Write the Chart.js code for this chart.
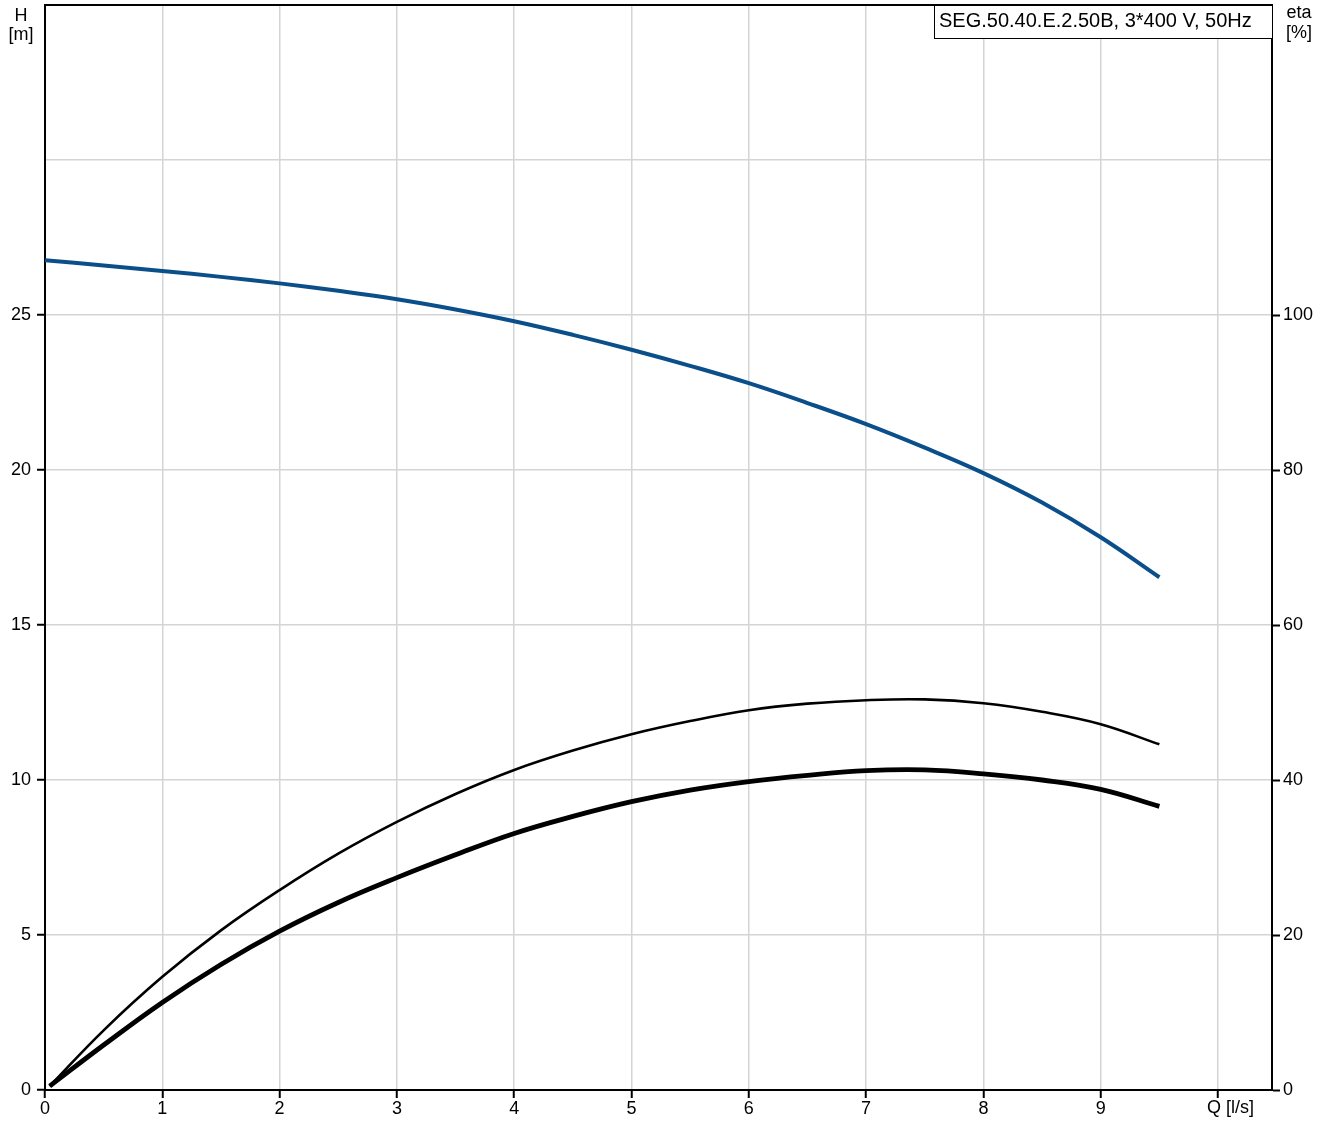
<!DOCTYPE html>
<html>
<head>
<meta charset="utf-8">
<script src="https://cdn.jsdelivr.net/npm/chart.js@4/dist/chart.umd.min.js"></script>
<style>
  html, body { margin: 0; padding: 0; background: #fff; }
  #wrap { width: 1328px; height: 1122px; }
</style>
</head>
<body>
<div id="wrap"><canvas id="myChart"></canvas></div>
<script>
  // data
  const qHead = [0, 0.5, 1, 1.5, 2, 2.5, 3, 3.5, 4, 4.5, 5, 5.5, 6, 6.5, 7, 7.5, 8, 8.5, 9, 9.5];
  const head = [26.77, 26.6, 26.42, 26.23, 26.02, 25.78, 25.51, 25.18, 24.8, 24.36,
                23.88, 23.36, 22.8, 22.16, 21.48, 20.72, 19.9, 18.95, 17.83, 16.54];

  const qEta = [0.04, 0.5, 1, 1.5, 2, 2.5, 3, 3.5, 4, 4.5, 5, 5.5, 6, 6.5, 7, 7.5, 8, 8.5, 9, 9.5];
  const etaHyd = [0.5, 7.7, 14.6, 20.6, 25.8, 30.5, 34.6, 38.2, 41.3, 43.8,
                  45.9, 47.6, 49.0, 49.85, 50.3, 50.4, 49.9, 48.8, 47.2, 44.6];
  const etaTot = [0.5, 5.8, 11.3, 16.2, 20.5, 24.2, 27.4, 30.35, 33.1, 35.3,
                  37.2, 38.7, 39.8, 40.6, 41.2, 41.3, 40.8, 40.0, 38.8, 36.6];

  const qTicks = [0, 1, 2, 3, 4, 5, 6, 7, 8, 9];
  const hTicks = [0, 5, 10, 15, 20, 25];
  const etaTicks = [0, 20, 40, 60, 80, 100];

  const pumpLabel = 'SEG.50.40.E.2.50B, 3*400 V, 50Hz';

  const toPts = (xs, ys) => xs.map((x, i) => ({ x: x, y: ys[i] }));

  const data = {
    datasets: [
      {
        label: 'H',
        data: toPts(qHead, head),
        yAxisID: 'y',
        borderColor: '#0b4f8a',
        borderWidth: 4,
        pointRadius: 0,
        tension: 0.4,
      },
      {
        label: 'eta',
        data: toPts(qEta, etaHyd),
        yAxisID: 'eta',
        borderColor: '#000',
        borderWidth: 2.6,
        pointRadius: 0,
        tension: 0.4,
      },
      {
        label: 'eta total',
        data: toPts(qEta, etaTot),
        yAxisID: 'eta',
        borderColor: '#000',
        borderWidth: 4.8,
        pointRadius: 0,
        tension: 0.4,
      }
    ]
  };

  const FAMILY = '"Liberation Sans", Arial, sans-serif';
  const FONT = '18px ' + FAMILY;

  // frame top line, axis titles and the pump label box
  const extras = {
    id: 'extras',
    afterDraw(chart) {
      const ctx = chart.ctx;
      const a = chart.chartArea;
      const x = chart.scales.x;
      ctx.save();
      ctx.strokeStyle = '#000';
      ctx.lineWidth = 2;
      ctx.beginPath();
      ctx.moveTo(a.left - 1, a.top);
      ctx.lineTo(a.right + 1, a.top);
      ctx.stroke();

      ctx.font = FONT;
      ctx.fillStyle = '#000';
      ctx.textAlign = 'center';
      ctx.textBaseline = 'alphabetic';
      ctx.fillText('H', 21, 21);
      ctx.fillText('[m]', 21, 40);
      ctx.fillText('eta', 1299, 18);
      ctx.fillText('[%]', 1299, 38);

      // Q label at the 10 tick
      const qx = x.getPixelForValue(10);
      ctx.textAlign = 'left';
      ctx.textBaseline = 'top';
      ctx.fillText('Q [l/s]', qx - 11, a.bottom + 9);

      // label box in the top right corner
      ctx.font = '20px ' + FAMILY;
      const w = ctx.measureText(pumpLabel).width + 25;
      const bx = Math.round(a.right - w);
      ctx.fillStyle = '#fff';
      ctx.fillRect(bx, a.top, a.right - bx, 33);
      ctx.strokeStyle = '#000';
      ctx.lineWidth = 1;
      ctx.strokeRect(bx + 0.5, a.top + 0.5, a.right - bx, 33);
      ctx.fillStyle = '#000';
      ctx.textBaseline = 'alphabetic';
      ctx.fillText(pumpLabel, bx + 5, a.top + 22);
      ctx.restore();
    }
  };

  const gridGray = '#d2d4d6';
  const noPadY = (scale) => { scale.paddingTop = 0; scale.paddingBottom = 0; };

  const config = {
    type: 'line',
    data,
    options: {
      responsive: true,
      maintainAspectRatio: false,
      animation: false,
      devicePixelRatio: 1,
      layout: {
        padding: { top: 5, left: 0, right: 0, bottom: 0 }
      },
      scales: {
        x: {
          type: 'linear',
          position: 'bottom',
          min: 0,
          max: 10.46,
          afterFit(scale) { scale.height = 32; scale.paddingLeft = 0; scale.paddingRight = 0; },
          afterBuildTicks(scale) {
            scale.ticks = qTicks.concat([10]).map(v => ({ value: v }));
          },
          border: { color: '#000', width: 2 },
          grid: {
            color: (c) => (c.tick && c.tick.value === 0) ? 'rgba(0,0,0,0)' : gridGray,
            lineWidth: 1.5,
            tickLength: 8,
            tickColor: '#000',
            tickWidth: 2,
          },
          ticks: {
            color: '#000',
            font: { family: FAMILY, size: 18 },
            padding: 0,
            maxRotation: 0,
            autoSkip: false,
            callback: (v) => qTicks.includes(v) ? String(v) : '',
          }
        },
        y: {
          type: 'linear',
          position: 'left',
          min: 0,
          max: 35,
          afterFit(scale) { scale.width = 45; noPadY(scale); },
          afterBuildTicks(scale) {
            scale.ticks = [0, 5, 10, 15, 20, 25, 30, 35].map(v => ({ value: v }));
          },
          border: { color: '#000', width: 2 },
          grid: {
            color: (c) => (c.tick && (c.tick.value === 0 || c.tick.value === 35)) ? 'rgba(0,0,0,0)' : gridGray,
            lineWidth: 1.5,
            tickLength: 8,
            tickWidth: 2,
            tickColor: (c) => (c.tick && hTicks.includes(c.tick.value)) ? '#000' : 'rgba(0,0,0,0)',
          },
          ticks: {
            color: '#000',
            font: { family: FAMILY, size: 18 },
            padding: 6,
            autoSkip: false,
            callback: (v) => hTicks.includes(v) ? String(v) : '',
          }
        },
        eta: {
          type: 'linear',
          position: 'right',
          min: 0,
          max: 140,
          afterFit(scale) { scale.width = 56; noPadY(scale); },
          afterBuildTicks(scale) {
            scale.ticks = [0, 20, 40, 60, 80, 100, 120, 140].map(v => ({ value: v }));
          },
          border: { color: '#000', width: 2 },
          grid: {
            drawOnChartArea: false,
            tickLength: 8,
            tickWidth: 2,
            tickColor: (c) => (c.tick && etaTicks.includes(c.tick.value)) ? '#000' : 'rgba(0,0,0,0)',
          },
          ticks: {
            color: '#000',
            font: { family: FAMILY, size: 18 },
            padding: 3,
            autoSkip: false,
            callback: (v) => etaTicks.includes(v) ? String(v) : '',
          }
        }
      },
      plugins: {
        legend: { display: false },
        title: { display: false },
        tooltip: { enabled: false }
      }
    },
    plugins: [extras]
  };

  const myChart = new Chart(
    document.getElementById('myChart'),
    config
  );
</script>
</body>
</html>
